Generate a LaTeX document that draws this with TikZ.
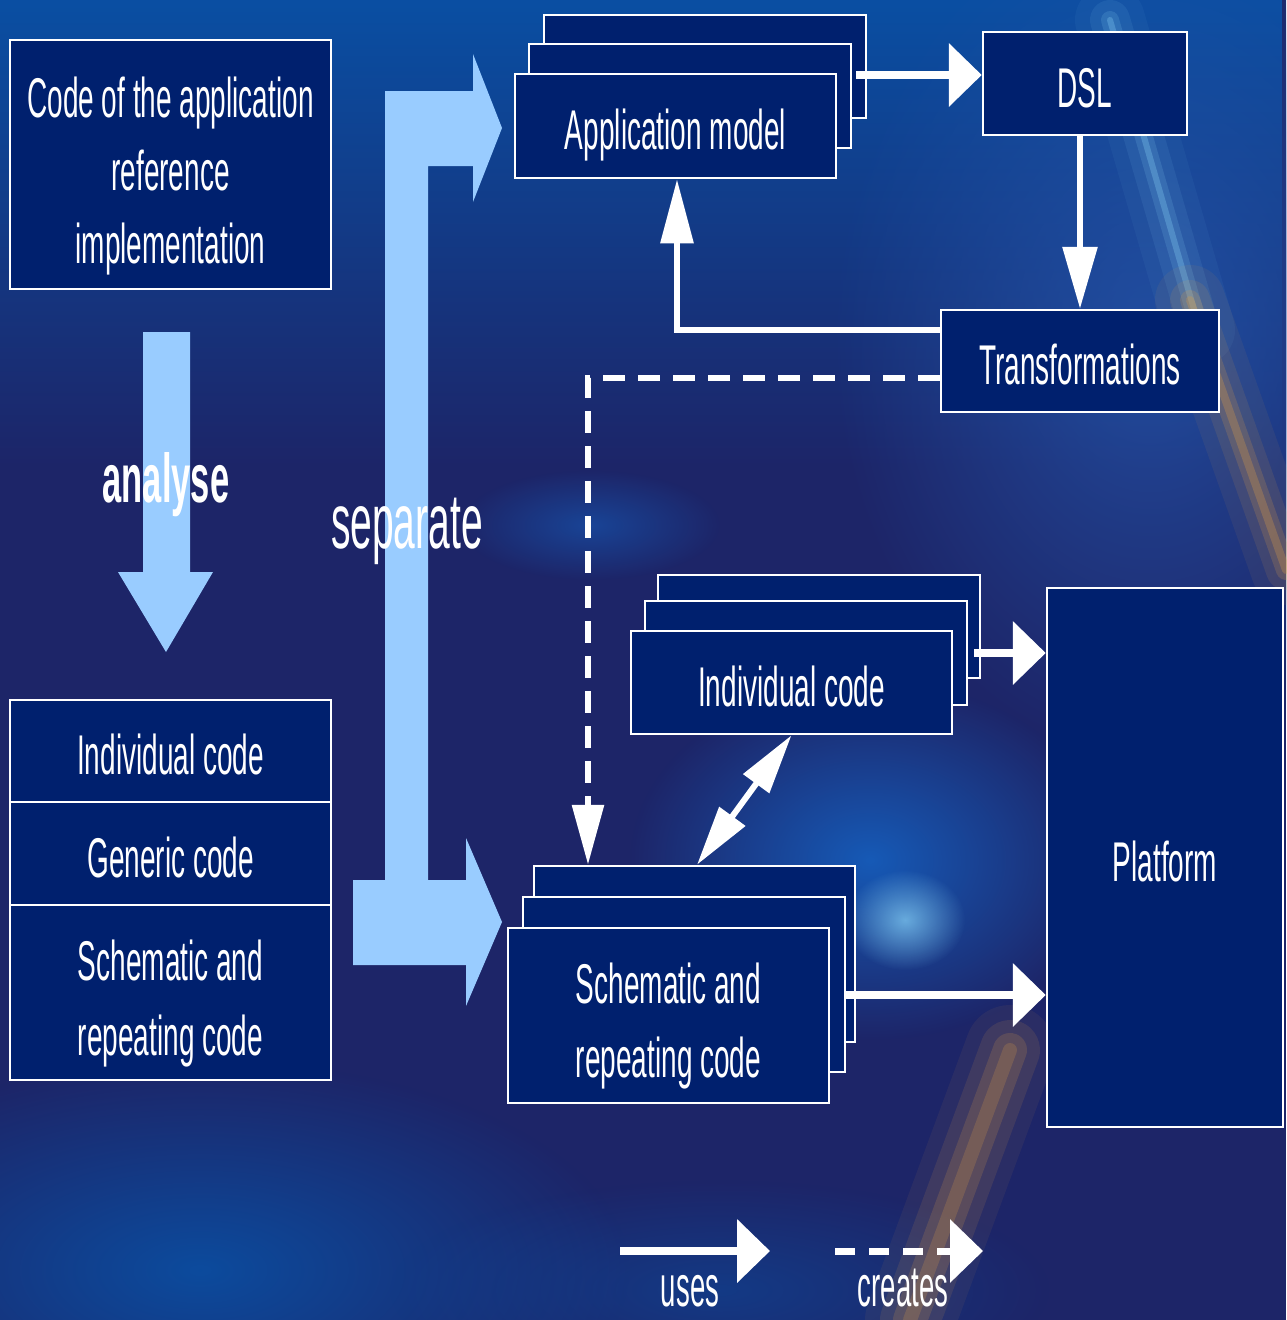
\documentclass[tikz,border=0pt]{standalone}
\usepackage{fontspec}
\setmainfont{Liberation Sans}[FakeStretch=0.5]
\usetikzlibrary{arrows.meta,fadings,calc}

\definecolor{navybox}{HTML}{00206E}
\definecolor{bigarrow}{HTML}{99CCFF}
\definecolor{bgbase}{HTML}{1D2568}
\definecolor{bgtop}{HTML}{0A4FA3}
\definecolor{bgright}{HTML}{2352A6}
\definecolor{glow}{HTML}{1563C4}
\definecolor{cyanglow}{HTML}{7CC4EE}
\definecolor{streak}{HTML}{D89A48}

\newcommand{\boxfont}{\fontsize{56}{73}\selectfont}

\tikzfading[name=fadedown, top color=transparent!0, bottom color=transparent!100]
\tikzfading[name=softblob, inner color=transparent!0, outer color=transparent!100]

\begin{document}
\begin{tikzpicture}[x=1pt,y=-1pt,
  box/.style={draw=white, line width=2.5pt, fill=navybox, text=white,
    inner sep=0pt, font=\boxfont, align=center},
  oneline/.style={text height=47pt, text depth=0pt},
  uses/.style={draw=white, line width=8pt, -{Triangle[length=33pt,width=62pt]}},
  thinuse/.style={draw=white, line width=6pt},
  creates/.style={draw=white, line width=6pt, dash pattern=on 22pt off 13pt},
  label/.style={text=white, inner sep=0pt}]

% ---------- background ----------
\path[use as bounding box] (0,0) rectangle (1286,1320);
\fill[bgbase] (0,0) rectangle (1286,1320);
\fill[bgtop, path fading=fadedown] (0,0) rectangle (1286,470);
\fill[bgright, path fading=softblob, opacity=.85] (1150,330) ellipse (320 and 430);
\fill[glow, path fading=softblob, opacity=.85] (870,860) ellipse (240 and 180);
\fill[cyanglow, path fading=softblob, opacity=.8] (905,920) ellipse (60 and 50);
\fill[glow, path fading=softblob, opacity=.5] (590,525) ellipse (130 and 55);
\fill[bgtop, path fading=softblob, opacity=.9] (200,1270) ellipse (430 and 210);
\fill[bgtop, path fading=softblob, opacity=.5] (720,1290) ellipse (330 and 110);
% light streaks on the right
\foreach \w/\o in {70/0.06, 40/0.10, 18/0.18, 6/0.35}
  \draw[cyanglow, line width=\w, opacity=\o, line cap=round] (1110,20) -- (1200,330);
\foreach \w/\o in {70/0.08, 40/0.12, 20/0.2, 8/0.3}
  \draw[streak, line width=\w, opacity=\o, line cap=round] (1190,300) -- (1286,570);
\foreach \w/\o in {90/0.07, 60/0.12, 34/0.18, 14/0.22}
  \draw[streak, line width=\w, opacity=\o, line cap=round] (1010,1050) -- (910,1320);

% ---------- broad arrows ----------
\fill[bigarrow] (143,332) -- (190,332) -- (190,572) -- (213,572) -- (166,652)
  -- (118,572) -- (143,572) -- cycle;
\fill[bigarrow] (385,91) -- (473,91) -- (473,54) -- (502,128) -- (473,202)
  -- (473,166) -- (428,166) -- (428,880) -- (466,880) -- (466,838)
  -- (502,922) -- (466,1006) -- (466,965) -- (353,965) -- (353,880)
  -- (385,880) -- cycle;
\node[label, anchor=base, font=\fontsize{69}{80}\selectfont\bfseries] (analyse) at (166,502) {analyse};
\node[label, anchor=base, font=\fontsize{78}{90}\selectfont] (separate) at (407,548) {separate};

% ---------- left column ----------
\node[box, minimum width=321pt, minimum height=249pt, text height=197pt, text depth=0pt]
  (ref) at (170.5,164.5) {Code of the application\\reference\\implementation};
\node[box, oneline, minimum width=321pt, minimum height=102pt] (li) at (170.5,751) {Individual code};
\node[box, oneline, minimum width=321pt, minimum height=103pt] (lg) at (170.5,853.5) {Generic code};
\node[box, minimum width=321pt, minimum height=175pt, text height=125pt, text depth=0pt,
  font=\fontsize{56}{75}\selectfont] (ls) at (170.5,992.5) {Schematic and\\repeating code};

% ---------- application model stack ----------
\node[box, minimum width=322pt, minimum height=103pt] (am3) at (705,66.5) {};
\node[box, minimum width=322pt, minimum height=104pt] (am2) at (690,96) {};
\node[box, oneline, minimum width=321pt, minimum height=104pt] (am) at (675.5,126) {Application model};

\node[box, oneline, minimum width=204pt, minimum height=103pt] (dsl) at (1085,83.5) {DSL};
\node[box, oneline, minimum width=278pt, minimum height=102pt] (tr) at (1080,361) {Transformations};

% ---------- individual code stack ----------
\node[box, minimum width=322pt, minimum height=103pt] (ic3) at (819,626.5) {};
\node[box, minimum width=322pt, minimum height=104pt] (ic2) at (806,653) {};
\node[box, oneline, minimum width=321pt, minimum height=103pt] (ic) at (791.5,682.5) {Individual code};

% ---------- schematic code stack ----------
\node[box, minimum width=321pt, minimum height=176pt] (sr3) at (694.5,954) {};
\node[box, minimum width=322pt, minimum height=175pt] (sr2) at (684,984.5) {};
\node[box, minimum width=321pt, minimum height=175pt, text height=124pt, text depth=0pt,
  font=\fontsize{56}{74}\selectfont] (sr) at (668.5,1015.5) {Schematic and\\repeating code};

\node[box, oneline, minimum width=236pt, minimum height=539pt] (pf) at (1165,857.5) {Platform};

% ---------- connectors ----------
\coordinate (amout) at (856,75);
\draw[uses] (amout) -- (amout -| dsl.west);
\draw[thinuse, -{Triangle[length=62pt,width=34pt]}] (dsl.south -| tr.north) -- (tr.north);
\draw[thinuse, -{Triangle[length=64pt,width=32pt]}] ([yshift=31pt]tr.west) -| ([xshift=1.5pt]am.south);
\coordinate (crt) at (588,0);
\draw[creates, -{Triangle[length=60pt,width=31pt]}] ([yshift=-17pt]tr.west) -| (crt |- sr3.north);
\draw[thinuse, {Triangle[length=60pt,width=31pt]}-{Triangle[length=60pt,width=31pt]}]
  (ic.south) -- ([xshift=2.5pt]sr3.north);
\draw[uses] ([xshift=6pt]ic2.east) -- (ic2.east -| pf.west);
\draw[uses] ([yshift=-10.5pt]sr2.east) -- ([yshift=-10.5pt]sr2.east -| pf.west);

% ---------- legend ----------
\coordinate (u1) at (620,1251);
\coordinate (u2) at (770,1251);
\coordinate (c1) at (835,1251);
\coordinate (c2) at (983,1251);
\draw[uses] (u1) -- (u2);
\draw[uses, line width=7pt, dash pattern=on 20pt off 14pt] (c1) -- (c2);
\node[label, anchor=base, font=\fontsize{58}{66}\selectfont] (usesl) at (690,1306) {\scalebox{0.95}[1]{uses}};
\node[label, anchor=base, font=\fontsize{58}{66}\selectfont] (createsl) at (903,1306) {\scalebox{0.95}[1]{creates}};
\end{tikzpicture}
\end{document}
